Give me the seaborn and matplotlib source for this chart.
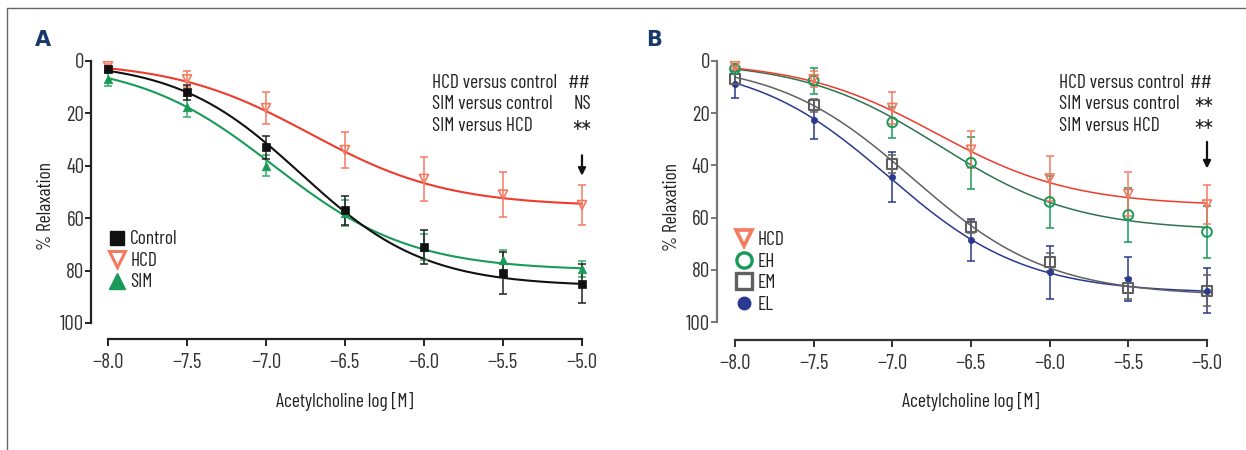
import numpy as np
import pandas as pd
import matplotlib
matplotlib.use("Agg")
import matplotlib.pyplot as plt
from matplotlib.lines import Line2D
import seaborn as sns

# ---------------- data ----------------
conc = [-8.0, -7.5, -7.0, -6.5, -6.0, -5.5, -5.0]
xticks = [-8.0, -7.5, -7.0, -6.5, -6.0, -5.5, -5.0]
xticklabels = ["\u22128.0", "\u22127.5", "\u22127.0", "\u22126.5", "\u22126.0", "\u22125.5", "\u22125.0"]
yticks = [0, 20, 40, 60, 80, 100]

control_mean = [3, 12, 33, 57, 71, 81, 85]
control_err = [1, 3, 4.5, 5.5, 6.5, 8, 7.5]
hcd_mean = [2, 7, 18, 34, 45, 51, 55]
hcd_err = [1, 3, 6, 7, 8.5, 8.5, 7.5]
sim_mean = [7, 17.5, 40, 58, 71, 76, 79.5]
sim_err = [2.5, 4, 4, 5, 5, 4, 3]

eh_mean = [3, 7.5, 23.5, 39, 54, 59, 65.5]
eh_err = [1, 5, 6, 10, 10, 10.5, 10]
em_mean = [7, 17, 39.5, 63.5, 77, 87, 88]
em_err = [2, 2.5, 3.5, 2.5, 3.5, 4, 6]
el_mean = [9, 22.5, 44.5, 68.5, 81, 83.5, 88]
el_err = [5, 7.5, 9.5, 8, 10, 8.5, 8.5]

# sigmoid fit parameters: (top, logEC50, hill)
fit_control = (86, -6.78, 1.1)
fit_hcd = (55.5, -6.72, 1.0)
fit_sim = (80, -6.95, 1.0)
fit_eh = (65, -6.70, 1.0)
fit_em = (90, -6.87, 1.0)
fit_el = (89, -7.02, 1.0)

stats_labels = ["HCD versus control", "SIM versus control", "SIM versus HCD"]
stats_a = ["##", "NS", "**"]
stats_b = ["##", "**", "**"]

# ---------------- style ----------------
sns.set_theme(style="ticks")
plt.rcParams['font.family'] = ['Barlow Condensed', 'DejaVu Sans']
plt.rcParams.update({
    "text.color": "#222222", "axes.labelcolor": "#222222",
    "xtick.color": "#333333", "ytick.color": "#333333",
})

W, H = 1246, 450
fig = plt.figure(figsize=(W / 100, H / 100), dpi=100)


def frac(x0, y0, x1, y1):
    return [x0 / W, 1 - y1 / H, (x1 - x0) / W, (y1 - y0) / H]


def sigmoid(x, p):
    top, ec, h = p
    return top / (1 + 10 ** ((ec - x) * h))


xs = np.linspace(-8, -5, 200)

RED_LINE = "#ee3b2c"
RED_PT = "#f47a60"
GREEN = "#1a9a58"
GREEN_DK = "#2e7350"
GREY = "#606060"
BLUE = "#2b3990"


def draw_series(ax, mean, err, fit, line_color, pt_color, marker, ms, filled, lw=1.5, ecol=None, mew=1.2):
    dfc = pd.DataFrame({"x": xs, "y": sigmoid(xs, fit)})
    sns.lineplot(data=dfc, x="x", y="y", ax=ax, color=line_color, lw=lw, clip_on=False, zorder=3)
    ecol = ecol or pt_color
    ax.errorbar(conc, mean, yerr=err, fmt="none", ecolor=ecol, elinewidth=1.1,
                capsize=3, capthick=1.1, clip_on=False, zorder=4)
    dfp = pd.DataFrame({"x": conc, "y": mean})
    if filled:
        sns.scatterplot(data=dfp, x="x", y="y", ax=ax, marker=marker, s=ms, color=pt_color,
                        edgecolor=pt_color, linewidth=0.5, clip_on=False, zorder=5)
    else:
        sns.scatterplot(data=dfp, x="x", y="y", ax=ax, marker=marker, s=ms, facecolor="none",
                        edgecolor=pt_color, linewidth=mew, clip_on=False, zorder=5)


def style_axes(ax, left_out, bottom_out, ylab_xy, xlab_y, left_color, bottom_color):
    ax.set_xlim(-8, -5)
    ax.set_ylim(100, 0)
    sns.despine(ax=ax)
    ax.spines["left"].set_position(("outward", left_out))
    ax.spines["bottom"].set_position(("outward", bottom_out))
    ax.spines["left"].set_color(left_color)
    ax.spines["bottom"].set_color(bottom_color)
    for s in ("left", "bottom"):
        ax.spines[s].set_linewidth(1.6)
    ax.set_xticks(xticks)
    ax.set_xticklabels(xticklabels)
    ax.set_yticks(yticks)
    ax.tick_params(axis="y", length=4, width=1.4, labelsize=15, pad=1, color=left_color)
    ax.tick_params(axis="x", length=5, width=1.4, labelsize=15, pad=5, color=bottom_color)
    ax.set_xlabel("Acetylcholine log [M]", fontsize=14)
    ax.set_ylabel("% Relaxation", fontsize=14)
    ax.yaxis.set_label_coords(*ylab_xy)
    ax.xaxis.set_label_coords(0.5, xlab_y)


def stats_block(ax, x_text, x_sym, labels, syms, ys):
    for lab, sym, yv in zip(labels, syms, ys):
        ax.text(x_text, yv, lab, fontsize=14, va="center", ha="left")
        if sym == "**":
            # larger asterisks, lowered so they sit centred on the text line
            ax.text(x_sym, yv + 5.6, sym, fontsize=19, va="baseline", ha="right")
        else:
            ax.text(x_sym, yv, sym, fontsize=14, va="center", ha="right")


ARROW = dict(arrowstyle="-|>", color="#111111", lw=1.6, mutation_scale=11, shrinkA=0, shrinkB=0)

# ---------------- panel A ----------------
axA = fig.add_axes(frac(108, 61, 582, 323))
draw_series(axA, hcd_mean, hcd_err, fit_hcd, RED_LINE, RED_PT, "v", 42, False)
draw_series(axA, sim_mean, sim_err, fit_sim, GREEN, GREEN, "^", 38, True, ecol="#3aa86a")
draw_series(axA, control_mean, control_err, fit_control, "#111111", "#111111", "s", 34, True, ecol="#222222")
style_axes(axA, 12, 11.5, (-0.112, 0.447), -0.263, "#222222", "#222222")

stats_block(axA, -5.949, -4.943, stats_labels, stats_a, [8.4, 16.4, 24.8])
axA.annotate("", xy=(-5.0, 43.8), xytext=(-5.0, 36.0), arrowprops=ARROW, annotation_clip=False)

legA = [
    Line2D([], [], marker="s", ls="none", color="#111111", ms=10, label="Control"),
    Line2D([], [], marker="v", ls="none", mfc="none", mec=RED_PT, mew=2.2, ms=11, label="HCD"),
    Line2D([], [], marker="^", ls="none", color=GREEN, ms=11, label="SIM"),
]
axA.legend(handles=legA, loc="center left", bbox_to_anchor=(0.0, 0.237), frameon=False,
           fontsize=14, handletextpad=0.25, labelspacing=0.18, borderaxespad=0.0,
           handlelength=0.9, borderpad=0.0)

# ---------------- panel B ----------------
axB = fig.add_axes(frac(735, 61, 1207, 322))
draw_series(axB, el_mean, el_err, fit_el, BLUE, BLUE, "o", 20, True, lw=1.1)
draw_series(axB, em_mean, em_err, fit_em, GREY, GREY, "s", 50, False, lw=1.1, mew=1.5)
draw_series(axB, eh_mean, eh_err, fit_eh, GREEN_DK, GREEN, "o", 50, False, lw=1.1, ecol=GREEN, mew=1.4)
draw_series(axB, hcd_mean, hcd_err, fit_hcd, RED_LINE, RED_PT, "v", 42, False, lw=1.1)
style_axes(axB, 13, 13, (-0.114, 0.44), -0.268, "#777777", "#333333")

stats_block(axB, -5.941, -4.962, stats_labels, stats_b, [8.4, 16.4, 24.8])
axB.annotate("", xy=(-5.0, 41.2), xytext=(-5.0, 31.0), arrowprops=ARROW, annotation_clip=False)

legB = [
    Line2D([], [], marker="v", ls="none", mfc="none", mec=RED_PT, mew=2.6, ms=11, label="HCD"),
    Line2D([], [], marker="o", ls="none", mfc="none", mec=GREEN, mew=2.4, ms=11, label="EH"),
    Line2D([], [], marker="s", ls="none", mfc="none", mec=GREY, mew=2.4, ms=11, label="EM"),
    Line2D([], [], marker="o", ls="none", color=BLUE, ms=9, label="EL"),
]
axB.legend(handles=legB, loc="center left", bbox_to_anchor=(0.0, 0.19), frameon=False,
           fontsize=14, handletextpad=0.25, labelspacing=0.18, borderaxespad=0.0,
           handlelength=0.9, borderpad=0.0)

# ---------------- frame & panel letters ----------------
fig.add_artist(Line2D([7 / W, 7 / W], [0, 1 - 8 / H], color="#666666", lw=1.0))
fig.add_artist(Line2D([7 / W, 1], [1 - 8 / H, 1 - 8 / H], color="#666666", lw=1.0))
fig.text(42.5 / W, 1 - 40 / H, "A", fontsize=15, fontweight="bold", color="#17386a",
         va="center", ha="center", family=["DejaVu Sans"])
fig.text(654 / W, 1 - 40 / H, "B", fontsize=15, fontweight="bold", color="#17386a",
         va="center", ha="center", family=["DejaVu Sans"])

fig.savefig("out.png", dpi=100)
